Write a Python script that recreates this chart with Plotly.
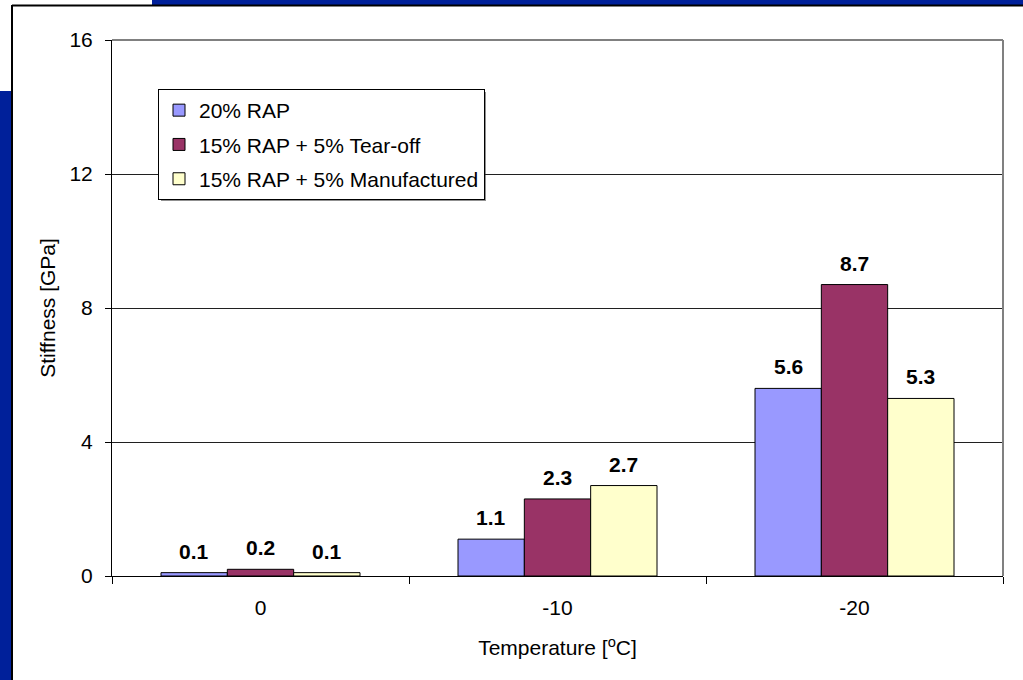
import plotly.graph_objects as go

# ---- data ----
categories = ["0", "-10", "-20"]
series_names = ["20% RAP", "15% RAP + 5% Tear-off", "15% RAP + 5% Manufactured"]
rap20 = [0.1, 1.1, 5.6]
tearoff = [0.2, 2.3, 8.7]
manufactured = [0.1, 2.7, 5.3]
y_tick_values = [0, 4, 8, 12, 16]

series_values = [rap20, tearoff, manufactured]
series_colors = ["#9999FF", "#993366", "#FFFFCC"]

W, H = 1023, 680
ML, MR, MT, MB = 112, 20, 40, 104
PW, PH = W - ML - MR, H - MT - MB
BARGAP = 0.33


def px_x(p):
    return (p - ML) / PW


def px_y(p):
    return (H - MB - p) / PH


FONT = "Liberation Sans, Arial, sans-serif"
FS = 21

fig = go.Figure()
xpos = list(range(len(categories)))
for k, (name, vals, col) in enumerate(zip(series_names, series_values, series_colors)):
    fig.add_trace(go.Bar(
        x=xpos, y=vals, name=name, legendgroup=name,
        marker=dict(color=col, line=dict(color="black", width=1)),
    ))

# data labels
nser = len(series_values)
w = (1 - BARGAP) / nser
annotations = []
for k, vals in enumerate(series_values):
    for i, v in enumerate(vals):
        annotations.append(dict(
            x=i + (k - (nser - 1) / 2) * w, y=v, xref="x", yref="y",
            text=f"<b>{v:.1f}</b>", showarrow=False, yanchor="bottom",
            yshift=8, font=dict(family=FONT, size=FS, color="black"),
        ))

shapes = [
    # blue frame strips
    dict(type="rect", xref="paper", yref="paper", x0=px_x(152), x1=px_x(W + 5),
         y0=px_y(5), y1=px_y(-5), fillcolor="#00209A", line=dict(width=0), layer="below"),
    dict(type="rect", xref="paper", yref="paper", x0=px_x(-5), x1=px_x(12),
         y0=px_y(H + 5), y1=px_y(91), fillcolor="#00209A", line=dict(width=0), layer="below"),
    dict(type="line", xref="paper", yref="paper", x0=px_x(12), x1=px_x(W + 5),
         y0=px_y(5.5), y1=px_y(5.5), line=dict(color="black", width=2)),
    dict(type="line", xref="paper", yref="paper", x0=px_x(12), x1=px_x(12),
         y0=px_y(5), y1=px_y(H + 5), line=dict(color="black", width=2)),
    # plot area border (gray top/right)
    dict(type="line", xref="paper", yref="paper", x0=0, x1=1, y0=1, y1=1,
         line=dict(color="#808080", width=2)),
    dict(type="line", xref="paper", yref="paper", x0=1, x1=1, y0=0, y1=1,
         line=dict(color="#808080", width=2)),
    # legend shadow
    dict(type="rect", xref="paper", yref="paper", x0=px_x(161), x1=px_x(486),
         y0=px_y(201), y1=px_y(92), fillcolor="#909090", line=dict(width=0), layer="below"),
]

fig.update_layout(
    width=W, height=H, autosize=False,
    margin=dict(l=ML, r=MR, t=MT, b=MB),
    paper_bgcolor="white", plot_bgcolor="white",
    font=dict(family=FONT, size=FS, color="black"),
    barmode="group", bargap=BARGAP, bargroupgap=0,
    showlegend=True,
    legend=dict(x=px_x(158), y=px_y(89), xanchor="left", yanchor="top",
                bgcolor="white", bordercolor="black", borderwidth=1,
                font=dict(family=FONT, size=FS, color="black"),
                tracegroupgap=4, itemwidth=30),
    xaxis=dict(range=[-0.5, len(categories) - 0.5], tickmode="array",
               tickvals=xpos, ticktext=categories, ticks="", showgrid=False,
               zeroline=False, showline=True, linecolor="black", linewidth=1,
               ticklabelstandoff=13,
               minor=dict(tickmode="array", tickvals=[i - 0.5 for i in range(len(categories) + 1)],
                          ticks="outside", ticklen=7, tickcolor="black", showgrid=False),
               title=dict(text="Temperature [<sup>o</sup>C]", standoff=22,
                          font=dict(family=FONT, size=FS))),
    yaxis=dict(range=[0, 16], tickmode="array", tickvals=y_tick_values,
               ticks="outside", ticklen=6, tickcolor="black",
               showgrid=True, gridcolor="#202020", gridwidth=1,
               zeroline=False, showline=True, linecolor="black", linewidth=1,
               ticklabelstandoff=8,
               title=dict(text="Stiffness [GPa]", standoff=8,
                          font=dict(family=FONT, size=FS))),
    shapes=shapes,
    annotations=annotations,
)

fig.write_html("out.html")
